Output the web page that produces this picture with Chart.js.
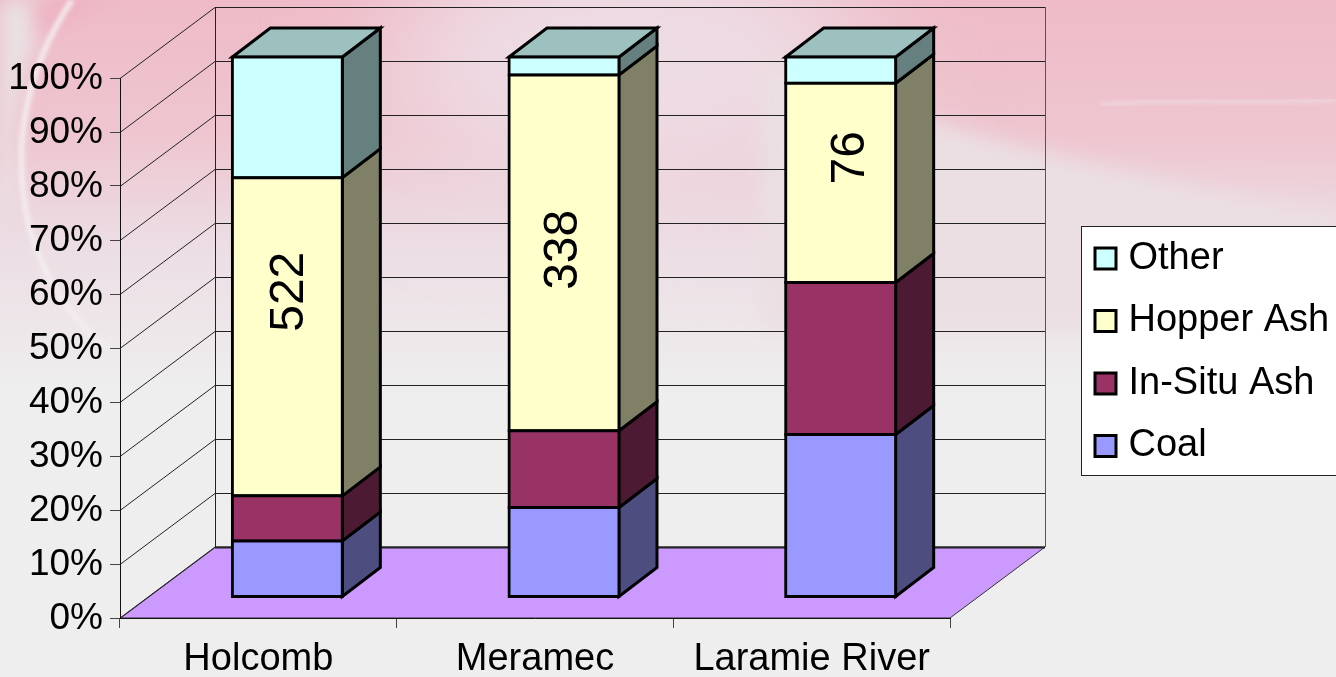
<!DOCTYPE html>
<html>
<head>
<meta charset="utf-8">
<title>Sample composition</title>
<script src="https://cdn.jsdelivr.net/npm/chart.js@4.4.0/dist/chart.umd.js"></script>
<style>
    html, body { margin: 0; height: 100%; overflow: hidden; background: #eeeeee; }
    #backdrop, #chart { position: absolute; left: 0; top: 0; }
</style>
</head>
<body>
<!-- page backdrop: pink wash fading into grey -->
<svg id="backdrop" width="1336" height="677" viewBox="0 0 1336 677">
    <defs>
        <linearGradient id="wash" x1="0" y1="0" x2="0" y2="1">
            <stop offset="0" stop-color="#eebbc7"/>
            <stop offset="0.35" stop-color="#eec6d0"/>
            <stop offset="0.62" stop-color="#ecdde4"/>
            <stop offset="1" stop-color="#eeeeee"/>
        </linearGradient>
        <filter id="soft" x="-60%" y="-100%" width="220%" height="300%"><feGaussianBlur stdDeviation="60"/></filter>
        <filter id="edge" x="-20%" y="-20%" width="140%" height="140%"><feGaussianBlur stdDeviation="10"/></filter>
        <filter id="thin" x="-10%" y="-10%" width="120%" height="120%"><feGaussianBlur stdDeviation="2"/></filter>
    </defs>
    <rect width="1336" height="677" fill="#eeeeee"/>
    <rect width="1336" height="390" fill="url(#wash)"/>
    <ellipse cx="630" cy="60" rx="240" ry="130" fill="#eedde5" filter="url(#soft)"/>
    <path d="M760 60 C900 120 1120 180 1336 212 L1336 330 L760 330 Z" fill="#ebdfe3" filter="url(#edge)"/>
    <path d="M0 0 L55 0 C20 60 8 130 16 210 L0 230 Z" fill="#e9e2e4" filter="url(#edge)"/>
    <path d="M40 40 C65 15 90 5 130 0 L30 0 Z" fill="#eeb0c0" filter="url(#edge)"/>
    <path d="M72 0 C25 70 10 150 30 230 C45 280 70 320 110 350" fill="none" stroke="#f4eef0" stroke-width="5" filter="url(#thin)"/>
    <path d="M1100 105 C1170 98 1260 104 1336 100" fill="none" stroke="#efd3da" stroke-width="5" filter="url(#thin)"/>
</svg>
<canvas id="chart" width="1336" height="677"></canvas>

<script>
    // measured amounts per site
    const sites = ["Holcomb", "Meramec", "Laramie River"];
    const coal = [92, 85, 62];
    const inSituAsh = [74, 73, 58];
    const hopperAsh = [522, 338, 76];
    const other = [198, 17, 10];
    const percentTicks = [0, 10, 20, 30, 40, 50, 60, 70, 80, 90, 100];

    const totals = sites.map((_, i) => coal[i] + inSituAsh[i] + hopperAsh[i] + other[i]);
    const toShare = arr => arr.map((v, i) => v / totals[i] * 100);

    // 3D box geometry
    const WALL_DX = 95, WALL_DY = -71;
    const BAR_SHIFT_X = 29, BAR_SHIFT_Y = -21;
    const BAR_DX = 38, BAR_DY = -29;
    const FONT = "'Liberation Sans', Arial, sans-serif";

    // hopper ash counts sit a bit off-centre on their segments
    const labelNudgeX = [0, -2, 8];
    const labelNudgeY = [-45, -3, -25];

    function poly(ctx, pts, fill) {
        ctx.beginPath();
        pts.forEach((p, i) => i ? ctx.lineTo(p[0], p[1]) : ctx.moveTo(p[0], p[1]));
        ctx.closePath();
        if (fill) {
            ctx.fillStyle = fill;
            ctx.fill();
        }
        ctx.stroke();
    }

    function line(ctx, x1, y1, x2, y2) {
        ctx.beginPath();
        ctx.moveTo(x1, y1);
        ctx.lineTo(x2, y2);
        ctx.stroke();
    }

    const boxPlugin = {
        id: "box3d",
        afterLayout(chart) {
            // legend entries start inside the panel; bottom is left loose so they stay in one column
            const lg = chart.legend;
            lg.left = 1077; lg.right = 1336; lg.top = 215; lg.bottom = 620;
            lg.width = 259; lg.height = 405;
        },
        beforeDraw(chart) {
            const { ctx, chartArea: a, scales: { y } } = chart;
            ctx.save();
            // legend panel
            ctx.strokeStyle = "#222";
            ctx.lineWidth = 1;
            ctx.fillStyle = "#ffffff";
            ctx.fillRect(1081.5, 226.5, 256, 249);
            ctx.strokeRect(1081.5, 226.5, 256, 249);
            // floor
            ctx.strokeStyle = "#333";
            poly(ctx, [
                [a.left, a.bottom],
                [a.left + WALL_DX, a.bottom + WALL_DY],
                [a.right + WALL_DX, a.bottom + WALL_DY],
                [a.right, a.bottom],
            ], "#cc99ff");
            // walls and their grid lines
            ctx.strokeStyle = "#222";
            percentTicks.forEach(t => {
                const py = Math.round(y.getPixelForValue(t)) + 0.5;
                const by = py + WALL_DY;
                line(ctx, a.left, py, a.left + WALL_DX, by);
                ctx.lineWidth = t === 0 ? 2 : 1;
                line(ctx, a.left + WALL_DX, by, a.right + WALL_DX, by);
                ctx.lineWidth = 1;
            });
            const wallTop = y.getPixelForValue(100) + WALL_DY;
            const wallBottom = y.getPixelForValue(0) + WALL_DY;
            line(ctx, a.left + WALL_DX + 0.5, wallTop, a.left + WALL_DX + 0.5, wallBottom);
            ctx.strokeStyle = "#555";
            line(ctx, a.right + WALL_DX + 0.5, wallTop, a.right + WALL_DX + 0.5, wallBottom);
            ctx.restore();
        },
        beforeDatasetsDraw(chart) {
            const { ctx } = chart;
            // bars stand a little in front of the back wall; the restore is in afterDatasetsDraw
            ctx.save();
            ctx.translate(BAR_SHIFT_X, BAR_SHIFT_Y);
            ctx.save();
            ctx.strokeStyle = "#000";
            ctx.lineWidth = 3;
            ctx.lineJoin = "miter";
            chart.data.datasets.forEach((ds, d) => {
                chart.getDatasetMeta(d).data.forEach(bar => {
                    const right = bar.x + bar.width / 2;
                    poly(ctx, [
                        [right, bar.y],
                        [right + BAR_DX, bar.y + BAR_DY],
                        [right + BAR_DX, bar.base + BAR_DY],
                        [right, bar.base],
                    ], ds.sideColor);
                });
            });
            // top cap
            chart.getDatasetMeta(chart.data.datasets.length - 1).data.forEach(bar => {
                const l = bar.x - bar.width / 2, r = bar.x + bar.width / 2;
                poly(ctx, [
                    [l, bar.y],
                    [l + BAR_DX, bar.y + BAR_DY],
                    [r + BAR_DX, bar.y + BAR_DY],
                    [r, bar.y],
                ], "#9cc1bf");
            });
            ctx.restore();
        },
        afterDatasetsDraw(chart) {
            const { ctx } = chart;
            // hopper ash counts, rotated
            const hopperIndex = chart.data.datasets.findIndex(ds => ds.label === "Hopper Ash");
            ctx.fillStyle = "#000";
            ctx.font = "48px " + FONT;
            ctx.textAlign = "center";
            ctx.textBaseline = "middle";
            chart.getDatasetMeta(hopperIndex).data.forEach((bar, i) => {
                ctx.save();
                ctx.translate(bar.x + labelNudgeX[i], (bar.y + bar.base) / 2 + labelNudgeY[i]);
                ctx.rotate(-Math.PI / 2);
                ctx.fillText(String(hopperAsh[i]), 0, 2);
                ctx.restore();
            });
            ctx.restore();
        },
    };

    function series(label, values, color, sideColor) {
        return {
            label,
            data: toShare(values),
            backgroundColor: color,
            borderColor: "#000",
            borderWidth: 3,
            borderSkipped: false,
            inflateAmount: 1.5,
            barThickness: 110,
            clip: false,
            sideColor,
        };
    }

    new Chart(document.getElementById("chart"), {
        type: "bar",
        data: {
            labels: sites,
            datasets: [
                series("Coal", coal, "#9999ff", "#4d4d80"),
                series("In-Situ Ash", inSituAsh, "#993366", "#4d1a33"),
                series("Hopper Ash", hopperAsh, "#ffffcc", "#808066"),
                series("Other", other, "#ccffff", "#668080"),
            ],
        },
        options: {
            responsive: false,
            animation: false,
            layout: { padding: { top: 78, right: 386, bottom: 0, left: 0 } },
            scales: {
                x: {
                    stacked: true,
                    afterFit(scale) { scale.height = 59; },
                    border: { color: "#111", width: 1 },
                    grid: { drawOnChartArea: false, tickLength: 10, tickColor: "#444" },
                    ticks: { color: "#000", font: { family: FONT, size: 38 }, padding: 9, maxRotation: 0 },
                },
                y: {
                    stacked: true,
                    min: 0,
                    max: 100,
                    afterFit(scale) { scale.width = 120; },
                    border: { color: "#111", width: 1 },
                    grid: { drawOnChartArea: false, tickLength: 10, tickColor: "#444" },
                    ticks: {
                        stepSize: 10,
                        color: "#000",
                        font: { family: FONT, size: 37 },
                        padding: 7,
                        labelOffset: 1,
                        autoSkip: false,
                        callback: v => v + "%",
                    },
                },
            },
            plugins: {
                title: { display: false },
                tooltip: { enabled: false },
                legend: {
                    position: "chartArea",
                    reverse: true,
                    align: "start",
                    labels: {
                        color: "#000",
                        font: { family: FONT, size: 38 },
                        usePointStyle: true,
                        pointStyle: "rect",
                        boxWidth: 8,
                        boxHeight: 21,
                        padding: 24.5,
                    },
                },
            },
        },
        plugins: [boxPlugin],
    });
</script>
</body>
</html>
